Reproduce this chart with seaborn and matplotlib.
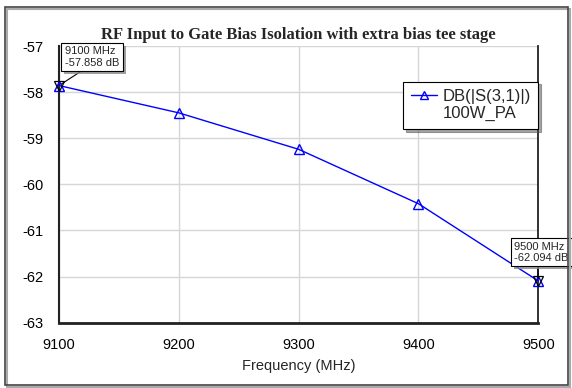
import matplotlib
matplotlib.use("Agg")
import matplotlib.pyplot as plt
import matplotlib.patheffects as pe
from matplotlib.lines import Line2D
from matplotlib.patches import Rectangle
import seaborn as sns
import pandas as pd

# Data
freq_mhz = [9100, 9200, 9300, 9400, 9500]
s31_db = [-57.858, -58.45, -59.24, -60.42, -62.094]
x_ticks = [9100, 9200, 9300, 9400, 9500]
y_ticks = [-63, -62, -61, -60, -59, -58, -57]
marker_freqs = [9100, 9500]
marker_vals = [-57.858, -62.094]
marker_texts = ["9100 MHz\n-57.858 dB", "9500 MHz\n-62.094 dB"]
series_label = "DB(|S(3,1)|)"
series_label2 = "100W_PA"
title = "RF Input to Gate Bias Isolation with extra bias tee stage"
xlabel = "Frequency (MHz)"

sns.set_style("white")
plt.rcParams['font.family'] = ['Liberation Sans', 'DejaVu Sans']

W, H = 572, 388
fig = plt.figure(figsize=(W / 100, H / 100), dpi=100)
ax = fig.add_axes([59 / W, 1 - 322.7 / H, (538.3 - 59) / W, (322.7 - 46) / H])

df = pd.DataFrame({"freq": freq_mhz, "db": s31_db})
sns.lineplot(data=df, x="freq", y="db", ax=ax, color="#0000ff", lw=1.0,
             marker="^", markersize=7, markerfacecolor="none",
             markeredgecolor="#0000ff", markeredgewidth=1.0, clip_on=False,
             zorder=3)

ax.set_xlim(9100, 9500)
ax.set_ylim(-63, -57)
ax.set_xticks(x_ticks)
ax.set_yticks(y_ticks)
ax.set_xticklabels([str(v) for v in x_ticks])
ax.set_yticklabels([str(v) for v in y_ticks])
ax.tick_params(axis="both", length=0, labelsize=10.5, colors="black")
ax.tick_params(axis="y", pad=11)
ax.tick_params(axis="x", pad=11)
ax.grid(True, color="#d6d6d6", lw=1.0)
ax.set_axisbelow(True)

ax.spines["top"].set_visible(False)
for side, lw in (("left", 1.5), ("right", 1.3), ("bottom", 2.0)):
    ax.spines[side].set_color("#222222")
    ax.spines[side].set_linewidth(lw)

ax.set_xlabel(xlabel, fontsize=10.5, labelpad=5)
ax.set_ylabel("")
ax.set_title(title, fontsize=12, fontweight="bold",
             family=["Liberation Serif", "DejaVu Serif"], pad=5)

# marker annotations
ax.plot(marker_freqs, marker_vals, linestyle="none", marker="v", markersize=7,
        markerfacecolor="none", markeredgecolor="black", markeredgewidth=0.9,
        clip_on=False, zorder=4)

offsets = [(6, 18), (-24, 18)]
relx = [0.4, 0.43]
for fx, fy, txt, off, rx in zip(marker_freqs, marker_vals, marker_texts, offsets, relx):
    an = ax.annotate(txt, xy=(fx, fy), xytext=off, textcoords="offset pixels",
                     ha="left", va="bottom", fontsize=8, linespacing=1.15,
                     bbox=dict(boxstyle="square,pad=0.32", fc="white", ec="black", lw=0.8),
                     arrowprops=dict(arrowstyle="-", color="black", lw=0.8,
                                     relpos=(rx, 0), shrinkA=0, shrinkB=2),
                     annotation_clip=False, zorder=5)
    an.get_bbox_patch().set_path_effects([pe.withSimplePatchShadow(offset=(2, -2), shadow_rgbFace="#888888", alpha=0.8)])

# legend
h1 = Line2D([], [], color="#0000ff", lw=1.0, marker="^", markersize=6,
            markerfacecolor="none", markeredgecolor="#0000ff")
h2 = Line2D([], [], color="none", lw=0)
leg = ax.legend([h1, h2], [series_label, series_label2], loc="upper right",
                bbox_to_anchor=(1.0, 1 - (81.7 - 46) / (322.7 - 46)),
                frameon=True, fancybox=False, shadow=True, fontsize=12,
                handlelength=1.6, handletextpad=0.3, labelspacing=0.12,
                borderpad=0.45, borderaxespad=0.0)
leg.get_frame().set_edgecolor("black")
leg.get_frame().set_linewidth(0.8)

# outer frame
fig.patches.append(Rectangle((7 / W, 1 - 387 / H), (570 - 7) / W, (387 - 9) / H,
                             transform=fig.transFigure, fill=False,
                             ec="#aaaaaa", lw=1.5, zorder=0))
fig.patches.append(Rectangle((5 / W, 1 - 385 / H), (568 - 5) / W, (385 - 7) / H,
                             transform=fig.transFigure, fill=False,
                             ec="#444444", lw=1.2, zorder=0))

fig.savefig("out.png", dpi=100, facecolor="white")
